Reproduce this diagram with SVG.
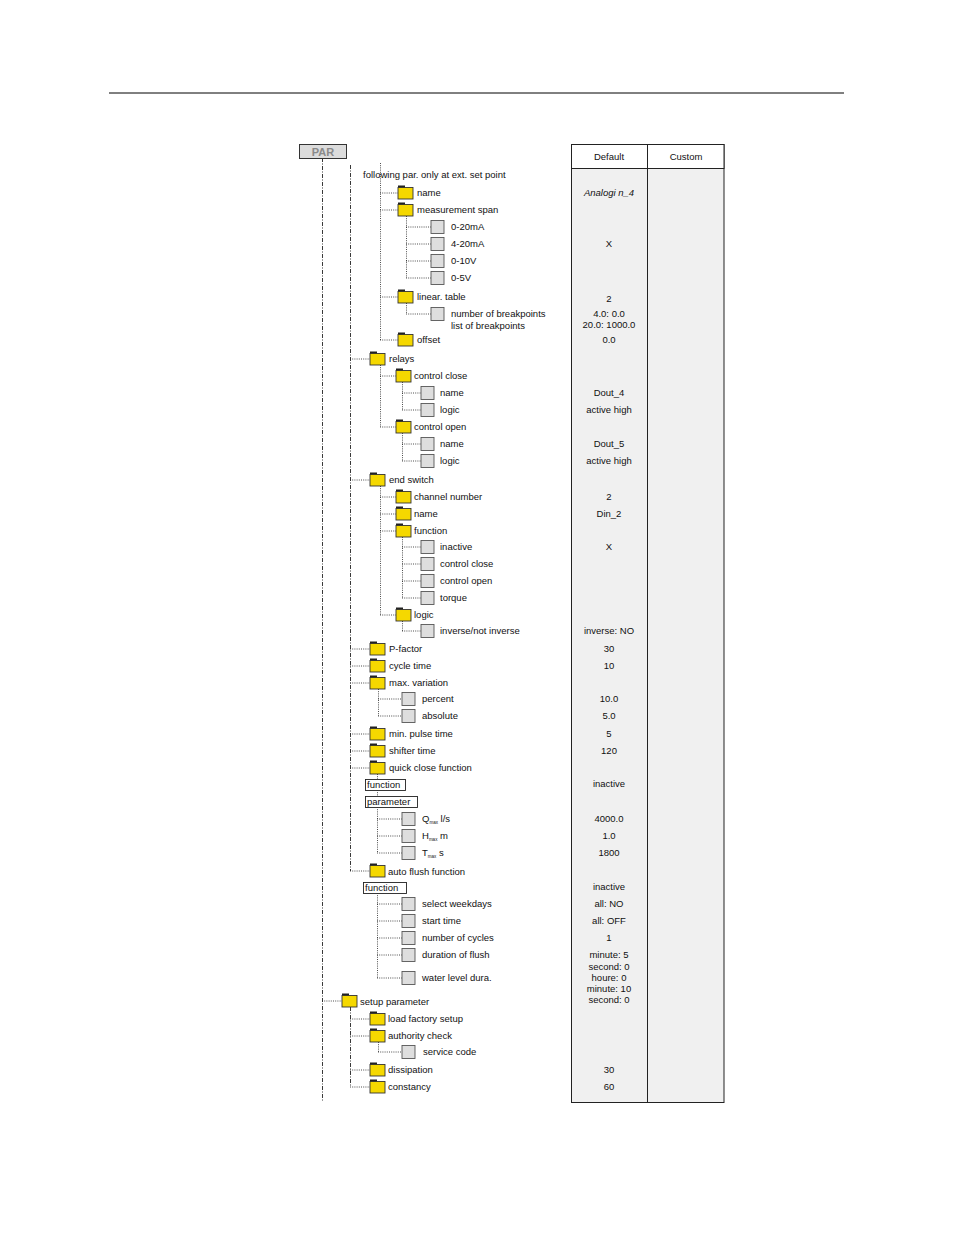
<svg xmlns="http://www.w3.org/2000/svg" xmlns:xlink="http://www.w3.org/1999/xlink" width="954" height="1235" viewBox="0 0 954 1235">
<style>
text{font-family:"Liberation Sans",Arial,sans-serif;font-size:9.5px;fill:#111}
.v{text-anchor:middle}
.c line{stroke:#222;stroke-width:0.8;stroke-dasharray:1 1.2}
.m{stroke:#222;stroke-width:0.9;stroke-dasharray:4 1.5 1 1.5;fill:none}
.bx{fill:#fff;stroke:#222;stroke-width:0.9}
</style>
<defs>
<g id="f"><rect x="0" y="-7.5" width="7" height="2.5" fill="#222"/><rect x="0" y="-5.5" width="15" height="11.5" fill="#f5d800" stroke="#333" stroke-width="0.9"/></g>
<g id="b"><rect x="0" y="-6.5" width="13" height="13" fill="#dedede" stroke="#555" stroke-width="0.9"/></g>
</defs>
<rect width="954" height="1235" fill="#fff"/>
<line x1="109" y1="93" x2="844" y2="93" stroke="#000" stroke-width="1"/>
<g id="table">
<rect x="571.5" y="144.5" width="152.5" height="958" fill="#f0f0f0" stroke="#222"/>
<rect x="571.5" y="144.5" width="152.5" height="24" fill="#fff" stroke="#222"/>
<line x1="647.5" y1="144.5" x2="647.5" y2="1102.5" stroke="#222"/>
<text x="609" y="160" class="v">Default</text>
<text x="686" y="160" class="v">Custom</text>
<text x="609" y="196" class="v" font-style="italic">Analogi n_4</text>
<text x="609" y="247" class="v">X</text>
<text x="609" y="302" class="v">2</text>
<text x="609" y="317" class="v">4.0: 0.0</text>
<text x="609" y="328" class="v">20.0: 1000.0</text>
<text x="609" y="343" class="v">0.0</text>
<text x="609" y="396" class="v">Dout_4</text>
<text x="609" y="413" class="v">active high</text>
<text x="609" y="447" class="v">Dout_5</text>
<text x="609" y="464" class="v">active high</text>
<text x="609" y="500" class="v">2</text>
<text x="609" y="517" class="v">Din_2</text>
<text x="609" y="550" class="v">X</text>
<text x="609" y="634" class="v">inverse: NO</text>
<text x="609" y="652" class="v">30</text>
<text x="609" y="669" class="v">10</text>
<text x="609" y="702" class="v">10.0</text>
<text x="609" y="719" class="v">5.0</text>
<text x="609" y="737" class="v">5</text>
<text x="609" y="754" class="v">120</text>
<text x="609" y="787" class="v">inactive</text>
<text x="609" y="822" class="v">4000.0</text>
<text x="609" y="839" class="v">1.0</text>
<text x="609" y="856" class="v">1800</text>
<text x="609" y="890" class="v">inactive</text>
<text x="609" y="907" class="v">all: NO</text>
<text x="609" y="924" class="v">all: OFF</text>
<text x="609" y="941" class="v">1</text>
<text x="609" y="958" class="v">minute: 5</text>
<text x="609" y="970" class="v">second: 0</text>
<text x="609" y="981" class="v">houre: 0</text>
<text x="609" y="992" class="v">minute: 10</text>
<text x="609" y="1003" class="v">second: 0</text>
<text x="609" y="1073" class="v">30</text>
<text x="609" y="1090" class="v">60</text>
</g>
<g id="connectors">
<path class="m" d="M322.5 158V1102M350.5 165V871M350.5 1007V1087"/>
<g class="c">
<line x1="380.5" y1="163" x2="380.5" y2="340"/>
<line x1="380" y1="193" x2="398" y2="193"/><line x1="380" y1="210" x2="398" y2="210"/><line x1="380" y1="297" x2="398" y2="297"/><line x1="380" y1="340" x2="398" y2="340"/>
<line x1="406.5" y1="216" x2="406.5" y2="278"/>
<line x1="406" y1="227" x2="431" y2="227"/><line x1="406" y1="244" x2="431" y2="244"/><line x1="406" y1="261" x2="431" y2="261"/><line x1="406" y1="278" x2="431" y2="278"/>
<line x1="406.5" y1="303" x2="406.5" y2="314"/><line x1="406" y1="314" x2="431" y2="314"/>
<line x1="350" y1="359" x2="370" y2="359"/><line x1="350" y1="480" x2="370" y2="480"/><line x1="350" y1="649" x2="370" y2="649"/><line x1="350" y1="666" x2="370" y2="666"/><line x1="350" y1="683" x2="370" y2="683"/><line x1="350" y1="734" x2="370" y2="734"/><line x1="350" y1="751" x2="370" y2="751"/><line x1="350" y1="768" x2="370" y2="768"/><line x1="350" y1="871" x2="370" y2="871"/>
<line x1="380.5" y1="365" x2="380.5" y2="427"/><line x1="380" y1="376" x2="396" y2="376"/><line x1="380" y1="427" x2="396" y2="427"/>
<line x1="402.5" y1="382" x2="402.5" y2="410"/><line x1="402" y1="393" x2="421" y2="393"/><line x1="402" y1="410" x2="421" y2="410"/>
<line x1="402.5" y1="433" x2="402.5" y2="461"/><line x1="402" y1="444" x2="421" y2="444"/><line x1="402" y1="461" x2="421" y2="461"/>
<line x1="380.5" y1="486" x2="380.5" y2="615"/><line x1="380" y1="497" x2="396" y2="497"/><line x1="380" y1="514" x2="396" y2="514"/><line x1="380" y1="531" x2="396" y2="531"/><line x1="380" y1="615" x2="396" y2="615"/>
<line x1="402.5" y1="537" x2="402.5" y2="598"/><line x1="402" y1="547" x2="421" y2="547"/><line x1="402" y1="564" x2="421" y2="564"/><line x1="402" y1="581" x2="421" y2="581"/><line x1="402" y1="598" x2="421" y2="598"/>
<line x1="402.5" y1="621" x2="402.5" y2="631"/><line x1="402" y1="631" x2="421" y2="631"/>
<line x1="378.5" y1="689" x2="378.5" y2="716"/><line x1="378" y1="699" x2="402" y2="699"/><line x1="378" y1="716" x2="402" y2="716"/>
<line x1="377.5" y1="774" x2="377.5" y2="779"/><line x1="377.5" y1="790" x2="377.5" y2="796"/>
<line x1="377.5" y1="807" x2="377.5" y2="853"/><line x1="377" y1="819" x2="402" y2="819"/><line x1="377" y1="836" x2="402" y2="836"/><line x1="377" y1="853" x2="402" y2="853"/>
<line x1="377.5" y1="893" x2="377.5" y2="978"/><line x1="377" y1="904" x2="402" y2="904"/><line x1="377" y1="921" x2="402" y2="921"/><line x1="377" y1="938" x2="402" y2="938"/><line x1="377" y1="955" x2="402" y2="955"/><line x1="377" y1="978" x2="402" y2="978"/>
<line x1="322" y1="1001" x2="342" y2="1001"/>
<line x1="350" y1="1019" x2="370" y2="1019"/><line x1="350" y1="1036" x2="370" y2="1036"/><line x1="350" y1="1070" x2="370" y2="1070"/><line x1="350" y1="1087" x2="370" y2="1087"/>
<line x1="378.5" y1="1042" x2="378.5" y2="1052"/><line x1="378" y1="1052" x2="402" y2="1052"/>
</g>
</g>
<g id="par"><rect x="299.5" y="144.5" width="47" height="14" fill="#dcdcdc" stroke="#333"/><text x="323" y="155.5" class="v" font-weight="bold" font-size="11px" fill="#8a8a8a" style="fill:#8a8a8a;font-size:11px">PAR</text></g>
<g id="following"><text x="363" y="178">following par. only at ext. set point</text></g>
<g id="n-name"><use href="#f" x="398" y="193"/><text x="417" y="196">name</text></g>
<g id="n-span"><use href="#f" x="398" y="210"/><text x="417" y="213">measurement span</text></g>
<g id="n-020"><use href="#b" x="431" y="227"/><text x="451" y="230">0-20mA</text></g>
<g id="n-420"><use href="#b" x="431" y="244"/><text x="451" y="247">4-20mA</text></g>
<g id="n-010"><use href="#b" x="431" y="261"/><text x="451" y="264">0-10V</text></g>
<g id="n-05"><use href="#b" x="431" y="278"/><text x="451" y="281">0-5V</text></g>
<g id="n-lin"><use href="#f" x="398" y="297"/><text x="417" y="300">linear. table</text></g>
<g id="n-bp"><use href="#b" x="431" y="314"/><text x="451" y="317">number of breakpoints</text><text x="451" y="329">list of breakpoints</text></g>
<g id="n-offset"><use href="#f" x="398" y="340"/><text x="417" y="343">offset</text></g>
<g id="n-relays"><use href="#f" x="370" y="359"/><text x="389" y="362">relays</text></g>
<g id="n-cc"><use href="#f" x="396" y="376"/><text x="414" y="379">control close</text></g>
<g id="n-ccn"><use href="#b" x="421" y="393"/><text x="440" y="396">name</text></g>
<g id="n-ccl"><use href="#b" x="421" y="410"/><text x="440" y="413">logic</text></g>
<g id="n-co"><use href="#f" x="396" y="427"/><text x="414" y="430">control open</text></g>
<g id="n-con"><use href="#b" x="421" y="444"/><text x="440" y="447">name</text></g>
<g id="n-col"><use href="#b" x="421" y="461"/><text x="440" y="464">logic</text></g>
<g id="n-es"><use href="#f" x="370" y="480"/><text x="389" y="483">end switch</text></g>
<g id="n-ch"><use href="#f" x="396" y="497"/><text x="414" y="500">channel number</text></g>
<g id="n-esn"><use href="#f" x="396" y="514"/><text x="414" y="517">name</text></g>
<g id="n-fn"><use href="#f" x="396" y="531"/><text x="414" y="534">function</text></g>
<g id="n-ina"><use href="#b" x="421" y="547"/><text x="440" y="550">inactive</text></g>
<g id="n-fcc"><use href="#b" x="421" y="564"/><text x="440" y="567">control close</text></g>
<g id="n-fco"><use href="#b" x="421" y="581"/><text x="440" y="584">control open</text></g>
<g id="n-tq"><use href="#b" x="421" y="598"/><text x="440" y="601">torque</text></g>
<g id="n-lg"><use href="#f" x="396" y="615"/><text x="414" y="618">logic</text></g>
<g id="n-inv"><use href="#b" x="421" y="631"/><text x="440" y="634">inverse/not inverse</text></g>
<g id="n-pf"><use href="#f" x="370" y="649"/><text x="389" y="652">P-factor</text></g>
<g id="n-ct"><use href="#f" x="370" y="666"/><text x="389" y="669">cycle time</text></g>
<g id="n-mv"><use href="#f" x="370" y="683"/><text x="389" y="686">max. variation</text></g>
<g id="n-pc"><use href="#b" x="402" y="699"/><text x="422" y="702">percent</text></g>
<g id="n-ab"><use href="#b" x="402" y="716"/><text x="422" y="719">absolute</text></g>
<g id="n-mp"><use href="#f" x="370" y="734"/><text x="389" y="737">min. pulse time</text></g>
<g id="n-st"><use href="#f" x="370" y="751"/><text x="389" y="754">shifter time</text></g>
<g id="n-qc"><use href="#f" x="370" y="768"/><text x="389" y="771">quick close function</text></g>
<g id="n-qcf"><rect class="bx" x="365.5" y="779.5" width="40" height="11"/><text x="367" y="788">function</text></g>
<g id="n-qcp"><rect class="bx" x="365.5" y="796.5" width="52" height="11"/><text x="367" y="805">parameter</text></g>
<g id="n-q"><use href="#b" x="402" y="819"/><text x="422" y="822">Q<tspan font-size="4.5" dy="2">max</tspan><tspan dy="-2"> l/s</tspan></text></g>
<g id="n-h"><use href="#b" x="402" y="836"/><text x="422" y="839">H<tspan font-size="4.5" dy="2">max</tspan><tspan dy="-2"> m</tspan></text></g>
<g id="n-t"><use href="#b" x="402" y="853"/><text x="422" y="856">T<tspan font-size="4.5" dy="2">max</tspan><tspan dy="-2"> s</tspan></text></g>
<g id="n-af"><use href="#f" x="370" y="871"/><text x="388" y="875">auto flush function</text></g>
<g id="n-aff"><rect class="bx" x="363.5" y="882.5" width="43" height="11"/><text x="365" y="891">function</text></g>
<g id="n-sw"><use href="#b" x="402" y="904"/><text x="422" y="907">select weekdays</text></g>
<g id="n-stt"><use href="#b" x="402" y="921"/><text x="422" y="924">start time</text></g>
<g id="n-nc"><use href="#b" x="402" y="938"/><text x="422" y="941">number of cycles</text></g>
<g id="n-df"><use href="#b" x="402" y="955"/><text x="422" y="958">duration of flush</text></g>
<g id="n-wl"><use href="#b" x="402" y="978"/><text x="422" y="981">water level dura.</text></g>
<g id="n-setup"><use href="#f" x="342" y="1001"/><text x="360" y="1005">setup parameter</text></g>
<g id="n-lfs"><use href="#f" x="370" y="1019"/><text x="388" y="1022">load factory setup</text></g>
<g id="n-auth"><use href="#f" x="370" y="1036"/><text x="388" y="1039">authority check</text></g>
<g id="n-sc"><use href="#b" x="402" y="1052"/><text x="423" y="1055">service code</text></g>
<g id="n-dis"><use href="#f" x="370" y="1070"/><text x="388" y="1073">dissipation</text></g>
<g id="n-con2"><use href="#f" x="370" y="1087"/><text x="388" y="1090">constancy</text></g>
</svg>
